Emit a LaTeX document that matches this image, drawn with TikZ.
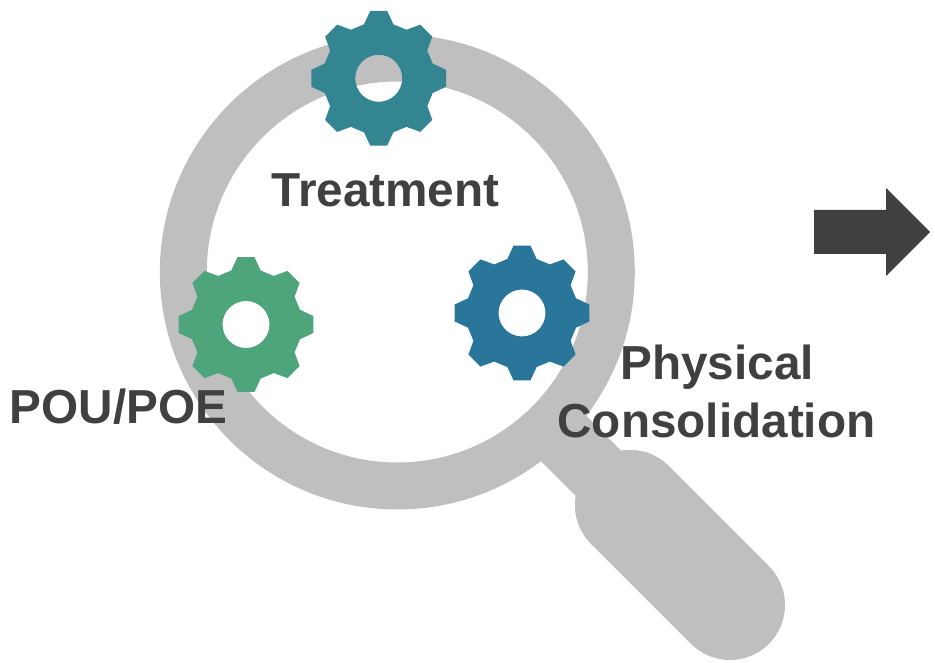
\documentclass[tikz,border=0pt]{standalone}
\usepackage{fontspec}
\setmainfont{Liberation Sans}
\definecolor{ringgray}{HTML}{BFBFBF}
\definecolor{inkgray}{HTML}{404040}
\definecolor{gearteal}{HTML}{348592}
\definecolor{gearblue}{HTML}{2A769B}
\definecolor{geargreen}{HTML}{4EA57B}
\tikzset{
  x=1pt,y=-1pt,
  label text/.style={font=\fontsize{47.7}{57}\selectfont\bfseries,text=inkgray,inner sep=0pt,align=center},
  gear/.pic={
    \fill[even odd rule,pic actions]
      (-8.5,-67.3)
      \foreach \a in {0,45,...,315}{
        -- ([rotate=-\a]-8.5,-67.3) -- ([rotate=-\a]8.5,-67.3)
        -- ([rotate=-\a]14.7,-54) -- ([rotate=-\a-45]-14.7,-54)
      } -- cycle
      (0,0) circle[radius=23.5];
  }
}
\begin{document}
\begin{tikzpicture}
\useasboundingbox (0,0) rectangle (935,663);
% magnifier
\coordinate (lens) at (397.3,272);
\coordinate (neckend) at (630,505);
\coordinate (handleend) at (730,605);
\draw[ringgray,line width=64] (lens) ++(150,150) -- (neckend);
\fill[ringgray] (neckend) circle[radius=55];
\draw[ringgray,line width=110,line cap=round] (neckend) -- (handleend);
\draw[ringgray,line width=47] (lens) circle[radius=214];
% gears
\pic[fill=gearteal] at (378.7,78.3) {gear};
\pic[fill=geargreen] at (246,324.5) {gear};
\pic[fill=gearblue] at (522,313) {gear};
% arrow
\fill[inkgray] (814,210) -- (886,210) -- (886,188) -- (930,232) -- (886,276) -- (886,254) -- (814,254) -- cycle;
% labels
\node[label text,anchor=base] (treatment) at (385.5,207) {Treatment};
\node[label text,anchor=base] (pou) at (118.5,423) {POU/POE};
\node[label text,anchor=base] (physical) at (717,379) {Physical};
\node[label text,anchor=base] (consolidation) at (716.5,437) {Consolidation};
\end{tikzpicture}
\end{document}
